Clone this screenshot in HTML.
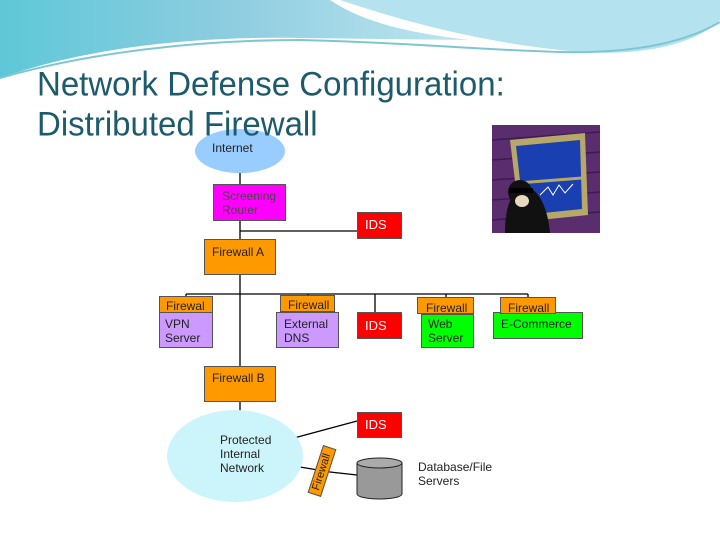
<!DOCTYPE html>
<html><head><meta charset="utf-8"><style>
body{margin:0;width:720px;height:540px;overflow:hidden;background:#fff;font-family:"Liberation Sans",sans-serif;}
.a{position:absolute;box-sizing:border-box;font-size:12px;color:#222;line-height:14px;}
.t{position:absolute;left:37px;color:#1d5a6c;font-size:33px;line-height:38px;white-space:nowrap;transform:scaleY(1.05);transform-origin:left top;}
</style></head><body>
<svg width="720" height="540" style="position:absolute;left:0;top:0">
<defs>
<linearGradient id="g" x1="0" y1="0" x2="1" y2="0"><stop offset="0" stop-color="#5ec8d8"/><stop offset="0.5" stop-color="#8fcde0"/><stop offset="1" stop-color="#bfe6f0"/></linearGradient>
</defs>
<path d="M0 0H330C360 20 400 32 470 40L300 38C180 36 80 50 0 78Z" fill="url(#g)"/>
<path d="M340 0H720V20C690 50 620 58 560 50C470 40 400 20 340 0Z" fill="#b4e3ef"/>
<path d="M0 78C90 52 200 40 300 40C400 42 480 50 560 52C640 54 690 40 720 22" fill="none" stroke="#7fc6d3" stroke-width="2"/>
<g stroke="#000" stroke-width="1.3" fill="none">
<line x1="240" y1="173" x2="240" y2="366"/>
<line x1="240" y1="231" x2="357" y2="231"/>
<line x1="186" y1="294" x2="528" y2="294"/>
<line x1="186" y1="294" x2="186" y2="297"/>
<line x1="308" y1="294" x2="308" y2="296"/>
<line x1="375" y1="294" x2="375" y2="312"/>
<line x1="446" y1="294" x2="446" y2="297"/>
<line x1="528" y1="294" x2="528" y2="297"/>
<line x1="240" y1="402" x2="240" y2="420"/>
<line x1="294" y1="438" x2="357" y2="421"/>
<line x1="294" y1="466" x2="330" y2="472"/>
<line x1="330" y1="472" x2="357" y2="475"/>
</g>
<ellipse cx="240" cy="151" rx="45" ry="22" fill="#99ccff"/>
<ellipse cx="235" cy="456" rx="68" ry="46" fill="#ccf5fb"/>
<path d="M357 463V494A22.5 5 0 0 0 402 494V463" fill="#999" stroke="#222"/>
<ellipse cx="379.5" cy="463" rx="22.5" ry="5" fill="#aaa" stroke="#222"/>
<rect x="492" y="125" width="108" height="108" fill="#5a2d6e"/>
<g stroke="#3e1a50" stroke-width="1.5"><line x1="492" y1="140" x2="600" y2="132"/><line x1="492" y1="160" x2="600" y2="152"/><line x1="492" y1="180" x2="600" y2="172"/><line x1="492" y1="200" x2="600" y2="192"/><line x1="492" y1="220" x2="600" y2="212"/></g>
<polygon points="510,140 585,133 588,215 520,222" fill="#b6a868"/>
<polygon points="516,146 580,140 582,209 524,215" fill="#1a3fb0"/>
<line x1="518" y1="183" x2="582" y2="178" stroke="#b6a868" stroke-width="3"/>
<path d="M540 195l8 -8 5 8 6-10 6 8 8-9" stroke="#fff" fill="none"/>
<path d="M505 233C505 210 510 190 525 185C540 190 548 210 550 233Z" fill="#111"/>
<ellipse cx="520" cy="192" rx="12" ry="12" fill="#111"/>
<ellipse cx="522" cy="201" rx="7" ry="6" fill="#e8d8c0"/>
<rect x="509" y="188" width="24" height="5" fill="#000"/>
</svg>
<div class="t" style="top:64px">Network Defense Configuration:</div>
<div class="t" style="top:104px">Distributed Firewall</div>
<div class="a" style="left:212px;top:141px">Internet</div>
<div class="a" style="left:213px;top:184px;width:73px;height:37px;background:#f0f;border:1px solid #555;padding:4px 0 0 8px;color:#444">Screening<br>Router</div>
<div class="a" style="left:357px;top:212px;width:45px;height:27px;background:#f00;border:1px solid #555;padding:5px 0 0 7px;color:#fff;font-size:13px">IDS</div>
<div class="a" style="left:204px;top:239px;width:72px;height:36px;background:#f90;border:1px solid #555;padding:5px 0 0 7px">Firewall A</div>
<div class="a" style="left:159px;top:296px;width:54px;height:17px;background:#f90;border:1px solid #555;padding:2px 0 0 6px">Firewal</div>
<div class="a" style="left:159px;top:312px;width:54px;height:36px;background:#c9f;border:1px solid #555;padding:4px 0 0 5px">VPN<br>Server</div>
<div class="a" style="left:276px;top:312px;width:63px;height:36px;background:#c9f;border:1px solid #555;padding:4px 0 0 7px">External<br>DNS</div>
<div class="a" style="left:280px;top:295px;width:55px;height:17px;background:#f90;border:1px solid #555;padding:2px 0 0 7px">Firewall</div>
<div class="a" style="left:357px;top:312px;width:45px;height:27px;background:#f00;border:1px solid #555;padding:6px 0 0 7px;color:#fff;font-size:13px">IDS</div>
<div class="a" style="left:421px;top:314px;width:53px;height:34px;background:#0f0;border:1px solid #555;padding:2px 0 0 6px">Web<br>Server</div>
<div class="a" style="left:417px;top:297px;width:57px;height:17px;background:#f90;border:1px solid #555;padding:3px 0 0 8px">Firewall</div>
<div class="a" style="left:493px;top:312px;width:90px;height:27px;background:#0f0;border:1px solid #555;padding:4px 0 0 7px">E-Commerce</div>
<div class="a" style="left:500px;top:297px;width:56px;height:17px;background:#f90;border:1px solid #555;padding:3px 0 0 7px">Firewall</div>
<div class="a" style="left:204px;top:366px;width:72px;height:36px;background:#f90;border:1px solid #555;padding:4px 0 0 7px">Firewall B</div>
<div class="a" style="left:357px;top:412px;width:45px;height:26px;background:#f00;border:1px solid #555;padding:5px 0 0 7px;color:#fff;font-size:13px">IDS</div>
<div class="a" style="left:220px;top:433px">Protected<br>Internal<br>Network</div>
<div class="a" style="left:297px;top:464px;width:50px;height:14px;background:#f90;border:1px solid #555;transform:rotate(-72deg);font-size:11px;line-height:12px;padding-left:4px">Firewall</div>
<div class="a" style="left:418px;top:460px">Database/File<br>Servers</div>
</body></html>
